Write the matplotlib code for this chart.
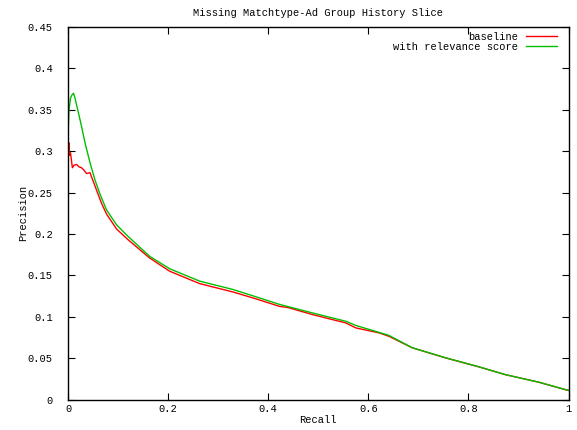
import numpy as np
import matplotlib
matplotlib.use("Agg")
import matplotlib.pyplot as plt
from matplotlib.ticker import FuncFormatter

plt.rcParams['font.family'] = ['Liberation Mono', 'DejaVu Sans Mono']
plt.rcParams['font.size'] = 7.5

# values
recall_base = [0, 0.0005, 0.001, 0.002, 0.003, 0.005, 0.0087, 0.012, 0.017, 0.022,
               0.027, 0.032, 0.037, 0.044, 0.047, 0.057, 0.067, 0.077, 0.097, 0.12,
               0.163, 0.203, 0.263, 0.329, 0.376, 0.422, 0.44, 0.489, 0.555, 0.575,
               0.622, 0.641, 0.688, 0.754, 0.821, 0.874, 0.94, 0.997, 1.0]
prec_base = [0.286, 0.318, 0.30, 0.31, 0.295, 0.298, 0.280, 0.283, 0.284, 0.281,
             0.280, 0.277, 0.273, 0.274, 0.269, 0.253, 0.237, 0.224, 0.206, 0.193,
             0.171, 0.155, 0.140, 0.130, 0.1215, 0.1126, 0.111, 0.1025, 0.0925, 0.0865,
             0.0804, 0.0764, 0.0624, 0.0503, 0.0394, 0.030, 0.021, 0.0113, 0.011]

recall_rel = [0, 0.002, 0.005, 0.008, 0.011, 0.014, 0.0225, 0.027, 0.034, 0.044,
              0.054, 0.064, 0.077, 0.097, 0.12, 0.163, 0.203, 0.263, 0.329, 0.376,
              0.422, 0.489, 0.555, 0.575, 0.622, 0.641, 0.688, 0.754, 0.821, 0.874,
              0.94, 0.997, 1.0]
prec_rel = [0.32, 0.35, 0.364, 0.368, 0.370, 0.364, 0.342, 0.330, 0.310, 0.286,
            0.265, 0.248, 0.229, 0.211, 0.197, 0.173, 0.158, 0.143, 0.133, 0.124,
            0.115, 0.1045, 0.0945, 0.0895, 0.081, 0.0775, 0.0625, 0.0505, 0.0395, 0.030,
            0.021, 0.0115, 0.011]

x_ticks = [0, 0.2, 0.4, 0.6, 0.8, 1]
y_ticks = [0, 0.05, 0.1, 0.15, 0.2, 0.25, 0.3, 0.35, 0.4, 0.45]

fig = plt.figure(figsize=(5.77, 4.30), dpi=100)
ax = fig.add_axes([68/577, 1 - 399.5/430, (568.5-68)/577, (399.5-27)/430])

ax.plot(recall_base, prec_base, color='#ff0000', lw=1, label='baseline')
ax.plot(recall_rel, prec_rel, color='#00c000', lw=1, label='with relevance score')

ax.set_xlim(0, 1)
ax.set_ylim(0, 0.45)
ax.set_xticks(x_ticks)
ax.set_yticks(y_ticks)
fmt = FuncFormatter(lambda v, p: '%g' % v)
ax.xaxis.set_major_formatter(fmt)
ax.yaxis.set_major_formatter(fmt)
ax.tick_params(direction='in', length=5, width=0.8, top=True, right=True)
ax.tick_params(axis='x', pad=3)
ax.tick_params(axis='y', pad=11)
for s in ax.spines.values():
    s.set_linewidth(1)

ax.set_title('Missing Matchtype-Ad Group History Slice', fontsize=7.5, pad=8)
ax.set_xlabel('Recall', labelpad=1)
ax.set_ylabel('Precision', labelpad=0)

ax.legend(loc='upper right', bbox_to_anchor=(1 - 12/500.5, 1 - 5/372.5),
          frameon=False, markerfirst=False, handlelength=2.9,
          borderaxespad=0, borderpad=0, labelspacing=0, handletextpad=0.8)

fig.savefig('out.png', dpi=100)
